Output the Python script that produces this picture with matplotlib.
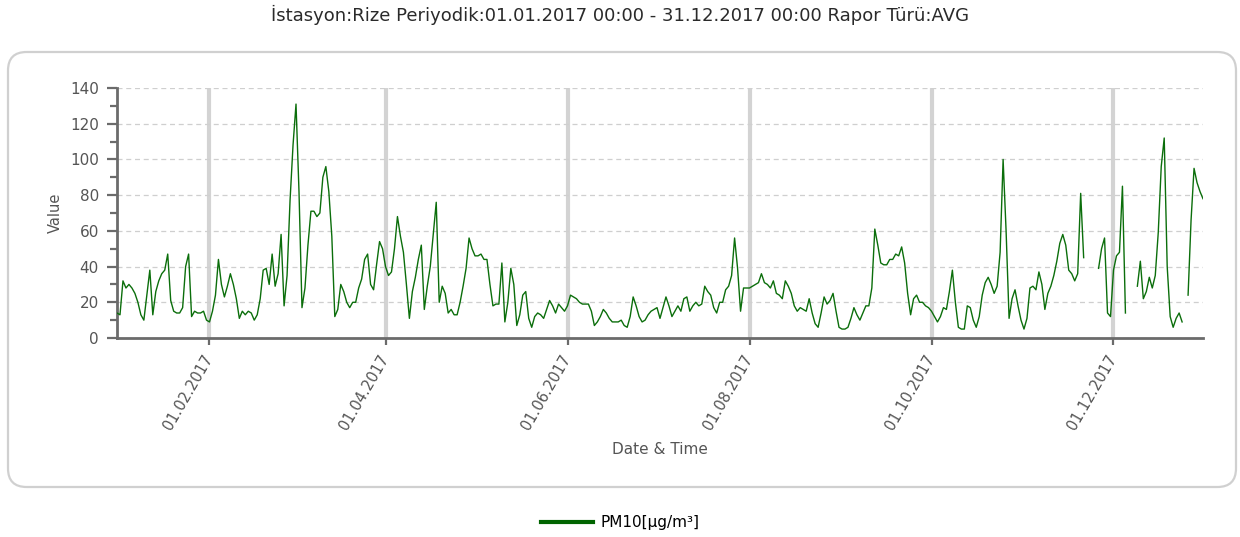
import numpy as np
import pandas as pd
import matplotlib
matplotlib.use("Agg")
import matplotlib.pyplot as plt
from matplotlib.patches import FancyBboxPatch
from matplotlib.ticker import MultipleLocator

plt.rcParams['font.family'] = ['DejaVu Sans']

title = "İstasyon:Rize Periyodik:01.01.2017 00:00 - 31.12.2017 00:00 Rapor Türü:AVG"
series_name = "PM10[µg/m³]"
start_date = "2017-01-01"
tick_dates = ["2017-02-01", "2017-04-01", "2017-06-01", "2017-08-01", "2017-10-01", "2017-12-01"]
tick_labels = ["01.02.2017", "01.04.2017", "01.06.2017", "01.08.2017", "01.10.2017", "01.12.2017"]

nan = np.nan
pm10_jan_mar = [14, 13, 32, 28, 30, 28, 25, 20, 13, 10, 24, 38, 13, 26, 32, 36, 38, 47, 21, 15,
                14, 14, 17, 40, 47, 12, 15, 14, 14, 15, 10, 9, 15, 24, 44, 30, 23, 29, 36, 30,
                22, 11, 15, 13, 15, 14, 10, 13, 22, 38, 39, 30, 47, 29, 36, 58, 18, 35, 77, 108,
                131, 82, 17, 28, 52, 71, 71, 68, 70, 90, 96, 82, 57, 12, 16, 30, 26, 20, 17, 20,
                20, 28, 33, 44, 47, 30, 27, 41, 54, 50]
pm10_apr_jun = [40, 35, 37, 50, 68, 57, 48, 30, 11, 26, 34, 44, 52, 16, 29, 40, 58, 76, 20, 29,
                25, 14, 16, 13, 13, 20, 29, 39, 56, 50, 46, 46, 47, 44, 44, 30, 18, 19, 19, 42,
                9, 20, 39, 30, 7, 13, 24, 26, 11, 6, 12, 14, 13, 11, 16, 21, 18, 14, 19, 17,
                15, 18, 24, 23, 22, 20, 19, 19, 19, 15, 7, 9, 12, 16, 14, 11, 9, 9, 9, 10,
                7, 6, 12, 23, 18, 12, 9, 10, 13, 15, 16]
pm10_jul_sep = [17, 11, 17, 23, 18, 12, 15, 18, 15, 22, 23, 15, 18, 20, 18, 19, 29, 26, 24, 17,
                14, 20, 20, 27, 29, 35, 56, 39, 15, 28, 28, 28, 29, 30, 31, 36, 31, 30, 28, 32,
                25, 24, 22, 32, 29, 25, 18, 15, 17, 16, 15, 22, 14, 8, 6, 14, 23, 19, 21, 25,
                15, 6, 5, 5, 6, 11, 17, 13, 10, 14, 18, 18, 28, 61, 52, 42, 41, 41, 44, 44,
                47, 46, 51, 42, 25, 13, 22, 24, 20, 20, 18, 17]
pm10_oct_dec = [15, 12, 9, 12, 17, 16, 26, 38, 20, 6, 5, 5, 18, 17, 10, 6, 12, 24, 31, 34,
                30, 25, 29, 48, 100, 60, 11, 22, 27, 18, 10, 5, 11, 28, 29, 27, 37, 30, 16, 25,
                29, 35, 43, 53, 58, 52, 38, 36, 32, 36, 81, 45, nan, nan, nan, nan, 39, 50, 56, 14,
                12, 38, 46, 48, 85, 14, nan, nan, nan, 29, 43, 22, 26, 34, 28, 35, 59, 96, 112, 40,
                12, 6, 11, 14, 9, nan, 24, 66, 95, 87, 82, 78]

pm10 = pm10_jan_mar + pm10_apr_jun + pm10_jul_sep + pm10_oct_dec
dates = pd.date_range(start_date, periods=len(pm10), freq="D")

W, H = 1240, 537
fig = plt.figure(figsize=(W / 100, H / 100), dpi=100)

# rounded frame
frame = FancyBboxPatch((8 / W, 1 - 487 / H), (1228 / W), (435 / H),
                       boxstyle="round,pad=0,rounding_size=0.015",
                       transform=fig.transFigure, facecolor="white",
                       edgecolor="#d0d0d0", linewidth=1.6, mutation_aspect=W / H,
                       zorder=-10)
fig.patches.append(frame)

fig.text(0.5, 1 - 15 / H, title, ha="center", va="center", fontsize=13, color="#2a2a2a")

ax = fig.add_axes([117 / W, 1 - 338 / H, (1203 - 117) / W, (338 - 88) / H])
ax.set_zorder(5)
ax.set_facecolor("none")
ax.plot(dates, pm10, color="#0b6e0b", lw=1.0, label=series_name, zorder=3)

ax.set_ylim(0, 140)
ax.set_xlim(dates[0], dates[-1])
ax.yaxis.set_major_locator(MultipleLocator(20))
ax.yaxis.set_minor_locator(MultipleLocator(10))
ax.set_xticks(pd.to_datetime(tick_dates))
ax.set_xticklabels(tick_labels, rotation=60, ha="right", va="center", rotation_mode="anchor")

for s in ["top", "right"]:
    ax.spines[s].set_visible(False)
for s in ["left", "bottom"]:
    ax.spines[s].set_color("#6b6b6b")
    ax.spines[s].set_linewidth(2.0)

ax.tick_params(axis="y", which="major", length=7, width=1.6, color="#6b6b6b",
               labelsize=11, labelcolor="#555555", pad=6)
ax.tick_params(axis="y", which="minor", length=5, width=1.6, color="#6b6b6b")
ax.tick_params(axis="x", which="major", length=5, width=1.6, color="#6b6b6b",
               labelsize=10.5, labelcolor="#555555", pad=8)

ax.grid(axis="y", which="major", linestyle=(0, (4, 3)), color="#cfcfcf", lw=0.9, zorder=0)
ax.grid(axis="x", which="major", linestyle="-", color="#d3d3d3", lw=3, zorder=0)

ax.set_ylabel("Value", fontsize=10.5, color="#555555", labelpad=5)
ax.set_xlabel("Date & Time", fontsize=11, color="#555555", labelpad=7)

leg = fig.legend(loc="center", bbox_to_anchor=(0.5, 1 - 523 / H), frameon=False,
                 fontsize=11, handlelength=3.4, handletextpad=0.5)
for line in leg.get_lines():
    line.set_linewidth(3)
    line.set_color("#006400")

fig.savefig("out.png", dpi=100)
